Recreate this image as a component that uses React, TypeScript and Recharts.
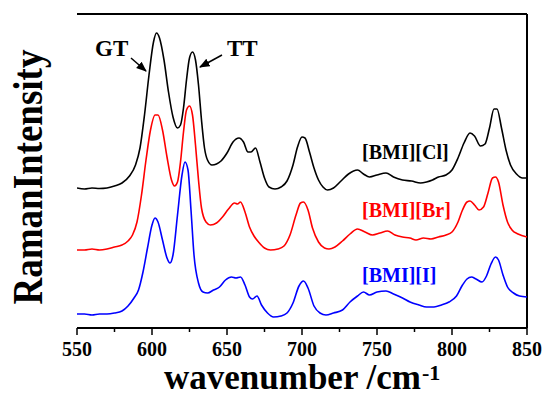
import React from 'react';
import { LineChart, Line, XAxis, YAxis, ReferenceLine } from 'recharts';

// Raman spectra (intensity in arbitrary units, curves offset)
const clWavenumber = [550, 555, 560, 565, 570, 575, 580, 585, 589, 592, 595, 598, 601, 603, 605, 608, 611, 614, 617, 619, 621, 623, 625, 627, 629, 631, 633, 635, 637, 640, 643, 646, 650, 654, 658, 661, 664, 666, 669, 672, 675, 678, 682, 686, 690, 694, 697, 700, 702, 705, 708, 711, 714, 717, 721, 726, 731, 737, 741, 745, 750, 756, 761, 767, 773, 779, 783, 787, 791, 796, 800, 804, 808, 812, 815, 819, 822, 825, 828, 830, 833, 836, 839, 843, 847, 850];
const clIntensity = [140, 139, 140, 139.5, 140, 142, 145, 152, 163, 180, 213, 253, 286, 295, 290, 268, 236, 211, 200, 203, 220, 248, 270, 276, 268, 243, 208, 180, 168, 163, 164, 167, 175, 186, 190, 186, 176, 176, 180, 166, 150, 141, 139, 141, 147, 163, 181, 191, 190, 176, 160, 148, 141, 138, 140, 147, 154, 158, 154, 151, 153, 155, 151, 148, 147, 145, 146, 148, 151, 153, 158, 170, 185, 195, 192, 182, 184, 200, 219, 219, 200, 178, 163, 154, 150, 150];

const brWavenumber = [550, 555, 560, 565, 570, 575, 580, 584, 587, 590, 593, 596, 599, 602, 604, 607, 610, 613, 615, 617, 619, 621, 623, 625, 627, 629, 631, 633, 636, 639, 643, 647, 651, 655, 657, 659, 662, 665, 668, 671, 675, 679, 684, 688, 692, 696, 699, 701, 704, 707, 711, 715, 718, 722, 727, 732, 737, 742, 747, 752, 757, 762, 767, 772, 776, 781, 786, 791, 796, 800, 804, 807, 810, 812, 815, 818, 821, 824, 827, 829, 831, 834, 837, 840, 844, 850];
const brIntensity = [78, 78, 79, 78, 79, 81, 83, 87, 93, 106, 133, 168, 198, 213, 213, 198, 171, 148, 142, 146, 166, 196, 218, 222, 213, 183, 148, 120, 106, 103, 105, 111, 119, 125, 124, 126, 116, 101, 92, 86, 80, 78, 79, 82, 93, 113, 125, 126, 118, 100, 86, 80, 79, 81, 87, 94, 99, 96, 93, 95, 97, 93, 91, 90, 88, 90, 89, 91, 93, 96, 106, 118, 126, 127, 123, 118, 121, 135, 150, 151, 146, 123, 106, 98, 94, 91];

const iWavenumber = [550, 555, 560, 565, 570, 575, 580, 584, 588, 591, 594, 597, 600, 602, 604, 607, 610, 612, 614, 617, 620, 622, 624, 626, 628, 631, 634, 637, 641, 645, 649, 653, 656, 659, 662, 665, 667, 670, 673, 677, 681, 686, 690, 694, 698, 701, 704, 708, 712, 716, 721, 727, 732, 737, 741, 745, 750, 756, 761, 767, 772, 778, 783, 788, 793, 798, 803, 807, 810, 813, 816, 820, 823, 826, 829, 831, 834, 837, 841, 845, 850];
const iIntensity = [14, 14, 13, 14, 14, 15, 17, 22, 30, 38, 56, 80, 103, 110, 106, 88, 70, 65, 73, 113, 153, 166, 158, 118, 73, 45, 36, 35, 38, 41, 48, 51, 50, 51, 43, 31, 29, 32, 23, 15, 11, 12, 15, 25, 42, 47, 40, 22, 15, 13, 15, 18, 26, 32, 36, 33, 36, 37, 34, 30, 26, 23, 21, 21, 23, 26, 32, 43, 49, 51, 49, 46, 52, 64, 71, 68, 53, 41, 35, 32, 31];

const xTicks = [550, 575, 600, 625, 650, 675, 700, 725, 750, 775, 800, 825, 850];

const toPoints = (wn: number[], values: number[]) => wn.map((w, i) => ({ wn: w, v: values[i] }));

const clData = toPoints(clWavenumber, clIntensity);
const brData = toPoints(brWavenumber, brIntensity);
const iData = toPoints(iWavenumber, iIntensity);

const FONT = '"Liberation Serif", "Times New Roman", serif';

const XTick = (props: any) => {
  const { x, y, payload } = props;
  const major = payload.value % 50 === 0;
  return (
    <g>
      <line x1={x} y1={y} x2={x} y2={y + (major ? 7 : 4)} stroke="#000" strokeWidth={1.5} />
      {major && (
        <text x={x} y={y + 28} textAnchor="middle" fontSize={20} fontWeight="bold" fontFamily={FONT} fill="#000">
          {payload.value}
        </text>
      )}
    </g>
  );
};

const App: React.FC = () => {
  return (
    <div style={{ position: 'relative', width: 542, height: 397 }}>
      <style>{'body{margin:0}'}</style>
      <LineChart width={542} height={397} data={clData} margin={{ top: 14, right: 15, bottom: 0, left: 77 }}>
        <XAxis
          dataKey="wn"
          type="number"
          domain={[550, 850]}
          ticks={xTicks}
          interval={0}
          height={69}
          tickSize={0}
          tickMargin={0}
          tick={<XTick />}
          axisLine={{ stroke: '#000', strokeWidth: 2 }}
          allowDataOverflow
        />
        <YAxis domain={[0, 314]} width={0} tick={false} tickLine={false} axisLine={{ stroke: '#000', strokeWidth: 2 }} allowDataOverflow />
        <ReferenceLine x={850} stroke="#000" strokeWidth={2} />
        <ReferenceLine y={314} stroke="#000" strokeWidth={2} />
        <Line data={clData} dataKey="v" type="monotone" stroke="#000000" strokeWidth={1.6} dot={false} isAnimationActive={false} />
        <Line data={brData} dataKey="v" type="monotone" stroke="#ff0000" strokeWidth={1.6} dot={false} isAnimationActive={false} />
        <Line data={iData} dataKey="v" type="monotone" stroke="#0000ff" strokeWidth={1.6} dot={false} isAnimationActive={false} />
      </LineChart>
      <svg width={542} height={397} style={{ position: 'absolute', left: 0, top: 0, pointerEvents: 'none' }}>
        <defs>
          <marker id="arrow" viewBox="0 0 10 10" refX="9" refY="5" markerWidth="7" markerHeight="7" orient="auto">
            <path d="M0,1 L10,5 L0,9 z" fill="#000" />
          </marker>
        </defs>
        <g fontFamily={FONT} fontWeight="bold">
          <text x={95} y={56} fontSize={23} fill="#000">GT</text>
          <line x1={131} y1={58} x2={146} y2={71} stroke="#000" strokeWidth={1.5} markerEnd="url(#arrow)" />
          <text x={227} y={56} fontSize={23} fill="#000">TT</text>
          <line x1={222} y1={55} x2={200} y2={67} stroke="#000" strokeWidth={1.5} markerEnd="url(#arrow)" />
          <text x={362} y={159} fontSize={20} fill="#000">[BMI][Cl]</text>
          <text x={362} y={217} fontSize={20} fill="#ff0000">[BMI][Br]</text>
          <text x={362} y={282} fontSize={20} fill="#0000ff">[BMI][I]</text>
          <text
            transform="translate(42,177) rotate(-90) scale(1,1.15)"
            textAnchor="middle"
            fontSize={37}
            fill="#000"
          >
            RamanIntensity
          </text>
          <text x={164} y={389} fontSize={35} fill="#000">
            wavenumber /cm
          </text>
          <text x={422} y={380} fontSize={22} fill="#000">-1</text>
        </g>
      </svg>
    </div>
  );
};

export default App;
